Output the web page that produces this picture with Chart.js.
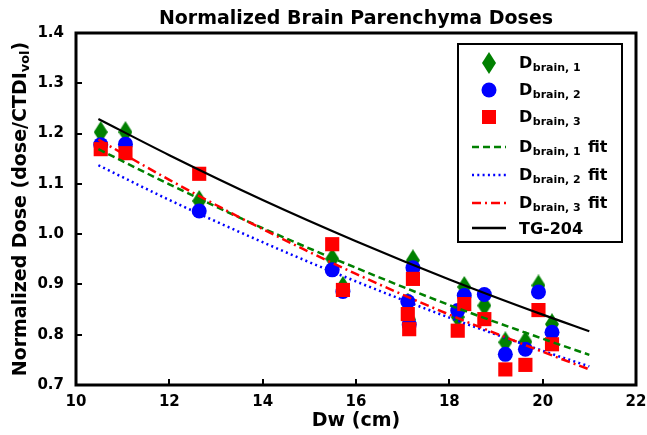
<!DOCTYPE html>
<html>
<head>
<meta charset="utf-8">
<title>Normalized Brain Parenchyma Doses</title>
<script src="https://cdn.jsdelivr.net/npm/chart.js@4.4.0/dist/chart.umd.min.js"></script>
<style>
  body { margin: 0; background: #fff; }
  #wrap { width: 647px; height: 435px; position: relative; }
</style>
</head>
<body>
<div id="wrap"><canvas id="doseChart"></canvas></div>
<script>
// Water-equivalent diameter of each patient (cm)
const dw = [10.53, 11.06, 12.64, 15.49, 15.72, 17.11, 17.14, 17.22, 18.18, 18.32, 18.75, 19.20, 19.63, 19.91, 20.20];

// Normalized doses per patient
const dBrain1 = [1.203, 1.203, 1.066, 0.951, 0.895, 0.862, 0.830, 0.948, 0.835, 0.895, 0.858, 0.785, 0.786, 0.898, 0.821];
const dBrain2 = [1.178, 1.179, 1.046, 0.929, 0.886, 0.866, 0.820, 0.933, 0.848, 0.878, 0.880, 0.761, 0.771, 0.885, 0.805];
const dBrain3 = [1.169, 1.161, 1.120, 0.980, 0.889, 0.841, 0.811, 0.911, 0.808, 0.861, 0.831, 0.731, 0.740, 0.849, 0.781];

// Fit curves
const fitX  = [10.48, 12, 14, 16, 18, 20, 21];
const fit1  = [1.169, 1.099, 1.012, 0.933, 0.859, 0.792, 0.760];
const fit2  = [1.137, 1.068, 0.984, 0.906, 0.834, 0.768, 0.737];
const fit3  = [1.188, 1.108, 1.010, 0.921, 0.840, 0.766, 0.731];
const tg204 = [1.229, 1.157, 1.068, 0.986, 0.910, 0.840, 0.807];

const xTicks = [10, 12, 14, 16, 18, 20, 22];
const yTicks = [0.7, 0.8, 0.9, 1.0, 1.1, 1.2, 1.3, 1.4];

const GREEN = '#008000';
const BLUE = '#0000ff';
const RED = '#ff0000';
const FONT = "'DejaVu Sans', 'Liberation Sans', sans-serif";

// matplotlib-like thin diamond marker
function makeDiamond(w, h, color) {
    const c = document.createElement('canvas');
    c.width = w;
    c.height = h;
    const g = c.getContext('2d');
    g.fillStyle = color;
    g.beginPath();
    g.moveTo(w / 2, 0);
    g.lineTo(w, h / 2);
    g.lineTo(w / 2, h);
    g.lineTo(0, h / 2);
    g.closePath();
    g.fill();
    return c;
}
const diamond = makeDiamond(14, 22, GREEN);

function points(xs, ys) {
    return xs.map((x, i) => ({ x: x, y: ys[i] }));
}

const dashes = {
    fit1: [7, 4],
    fit2: [2, 3.3],
    fit3: [9, 4, 2, 4],
    tg: []
};

// draws frame, inward ticks, titles and the legend box
const decorPlugin = {
    id: 'decor',
    afterDatasetsDraw(chart) {
        const ctx = chart.ctx;
        const a = chart.chartArea;
        const xs = chart.scales.x;
        const ys = chart.scales.y;
        ctx.save();

        // inward ticks
        ctx.strokeStyle = '#000';
        ctx.lineWidth = 2;
        ctx.beginPath();
        xTicks.forEach(v => {
            const px = Math.round(xs.getPixelForValue(v));
            ctx.moveTo(px, a.bottom);
            ctx.lineTo(px, a.bottom - 6);
        });
        yTicks.forEach(v => {
            const py = Math.round(ys.getPixelForValue(v));
            ctx.moveTo(a.left, py);
            ctx.lineTo(a.left + 6, py);
        });
        ctx.stroke();

        // frame
        ctx.lineWidth = 3;
        ctx.strokeRect(a.left, a.top, a.right - a.left, a.bottom - a.top);

        // title
        ctx.fillStyle = '#000';
        ctx.font = 'bold 19px ' + FONT;
        ctx.textAlign = 'center';
        ctx.textBaseline = 'middle';
        ctx.fillText('Normalized Brain Parenchyma Doses', (a.left + a.right) / 2, 19);

        // x axis title
        ctx.fillText('Dw (cm)', (a.left + a.right) / 2, 421);

        // y axis title with subscript
        ctx.save();
        ctx.translate(0, (a.top + a.bottom) / 2);
        ctx.rotate(-Math.PI / 2);
        ctx.textAlign = 'left';
        ctx.textBaseline = 'alphabetic';
        const mainTxt = 'Normalized Dose (dose/CTDI';
        ctx.font = 'bold 19px ' + FONT;
        const w1 = ctx.measureText(mainTxt).width;
        const w3 = ctx.measureText(')').width;
        ctx.font = 'bold 13px ' + FONT;
        const w2 = ctx.measureText('vol').width;
        let tx = -(w1 + w2 + w3) / 2;
        ctx.font = 'bold 19px ' + FONT;
        ctx.fillText(mainTxt, tx, 26);
        ctx.font = 'bold 13px ' + FONT;
        ctx.fillText('vol', tx + w1, 29);
        ctx.font = 'bold 19px ' + FONT;
        ctx.fillText(')', tx + w1 + w2, 26);
        ctx.restore();

        // legend
        const lx = 458, ly = 44, lw = 164, lh = 198;
        ctx.fillStyle = '#fff';
        ctx.fillRect(lx, ly, lw, lh);
        ctx.strokeStyle = '#000';
        ctx.lineWidth = 2;
        ctx.strokeRect(lx, ly, lw, lh);

        const mx = 489;
        ctx.drawImage(diamond, mx - 7, 63 - 11);
        ctx.fillStyle = BLUE;
        ctx.beginPath();
        ctx.arc(mx, 90, 7.5, 0, Math.PI * 2);
        ctx.fill();
        ctx.fillStyle = RED;
        ctx.fillRect(mx - 7, 117 - 7, 14, 14);

        const lineRows = [
            { y: 147, color: GREEN, dash: dashes.fit1 },
            { y: 175, color: BLUE, dash: dashes.fit2 },
            { y: 203, color: RED, dash: dashes.fit3 },
            { y: 228, color: '#000', dash: dashes.tg }
        ];
        lineRows.forEach(r => {
            ctx.strokeStyle = r.color;
            ctx.lineWidth = 2.5;
            ctx.setLineDash(r.dash);
            ctx.beginPath();
            ctx.moveTo(472, r.y);
            ctx.lineTo(506, r.y);
            ctx.stroke();
        });
        ctx.setLineDash([]);

        const labels = [
            { y: 63, sub: 'brain, 1', fit: false },
            { y: 90, sub: 'brain, 2', fit: false },
            { y: 117, sub: 'brain, 3', fit: false },
            { y: 147, sub: 'brain, 1', fit: true },
            { y: 175, sub: 'brain, 2', fit: true },
            { y: 203, sub: 'brain, 3', fit: true }
        ];
        ctx.fillStyle = '#000';
        ctx.textAlign = 'left';
        ctx.textBaseline = 'alphabetic';
        labels.forEach(l => {
            ctx.font = 'bold 16px ' + FONT;
            ctx.fillText('D', 519, l.y + 4.5);
            const dW = ctx.measureText('D').width;
            if (l.fit) ctx.fillText('fit', 588, l.y + 4.5);
            ctx.font = 'bold 11px ' + FONT;
            ctx.fillText(l.sub, 519 + dW + 0.5, l.y + 7.5);
        });
        ctx.font = 'bold 16px ' + FONT;
        ctx.fillText('TG-204', 519, 228 + 6);

        ctx.restore();
    }
};

const ctx = document.getElementById('doseChart');

new Chart(ctx, {
    type: 'scatter',
    data: {
        datasets: [
            {
                label: 'D brain,1',
                data: points(dw, dBrain1),
                pointStyle: diamond,
                pointRadius: 10,
                backgroundColor: GREEN,
                borderColor: GREEN,
                order: 7
            },
            {
                label: 'D brain,2',
                data: points(dw, dBrain2),
                pointStyle: 'circle',
                pointRadius: 7.5,
                borderWidth: 0,
                backgroundColor: BLUE,
                borderColor: BLUE,
                order: 6
            },
            {
                label: 'D brain,3',
                data: points(dw, dBrain3),
                pointStyle: 'rect',
                pointRadius: 10,
                borderWidth: 0,
                backgroundColor: RED,
                borderColor: RED,
                order: 5
            },
            {
                label: 'D brain,1 fit',
                data: points(fitX, fit1),
                showLine: true,
                pointRadius: 0,
                borderColor: GREEN,
                borderWidth: 2.5,
                borderDash: dashes.fit1,
                cubicInterpolationMode: 'monotone',
                order: 4
            },
            {
                label: 'D brain,2 fit',
                data: points(fitX, fit2),
                showLine: true,
                pointRadius: 0,
                borderColor: BLUE,
                borderWidth: 2.5,
                borderDash: dashes.fit2,
                cubicInterpolationMode: 'monotone',
                order: 3
            },
            {
                label: 'D brain,3 fit',
                data: points(fitX, fit3),
                showLine: true,
                pointRadius: 0,
                borderColor: RED,
                borderWidth: 2.5,
                borderDash: dashes.fit3,
                cubicInterpolationMode: 'monotone',
                order: 2
            },
            {
                label: 'TG-204',
                data: points(fitX, tg204),
                showLine: true,
                pointRadius: 0,
                borderColor: '#000',
                borderWidth: 2.2,
                cubicInterpolationMode: 'monotone',
                order: 1
            }
        ]
    },
    options: {
        responsive: true,
        maintainAspectRatio: false,
        animation: false,
        events: [],
        layout: {
            padding: { top: 33, right: 10, bottom: 0, left: 0 }
        },
        plugins: {
            legend: { display: false },
            title: { display: false },
            tooltip: { enabled: false }
        },
        scales: {
            x: {
                type: 'linear',
                min: 10,
                max: 22,
                grid: { display: false, drawTicks: false },
                border: { display: false },
                afterBuildTicks: function(scale) {
                    scale.ticks = xTicks.map(v => ({ value: v }));
                },
                afterFit: function(scale) {
                    scale.height = 50;
                    scale.paddingLeft = 0;
                    scale.paddingRight = 0;
                },
                ticks: {
                    color: '#000',
                    padding: 8,
                    maxRotation: 0,
                    font: { family: FONT, weight: 'bold', size: 15 },
                    callback: v => String(v)
                }
            },
            y: {
                type: 'linear',
                min: 0.7,
                max: 1.4,
                grid: { display: false, drawTicks: false },
                border: { display: false },
                afterBuildTicks: function(scale) {
                    scale.ticks = yTicks.map(v => ({ value: v }));
                },
                afterFit: function(scale) {
                    scale.width = 76;
                    scale.paddingTop = 0;
                    scale.paddingBottom = 0;
                },
                ticks: {
                    color: '#000',
                    padding: 12,
                    font: { family: FONT, weight: 'bold', size: 15 },
                    callback: v => v.toFixed(1)
                }
            }
        }
    },
    plugins: [decorPlugin]
});
</script>
</body>
</html>
